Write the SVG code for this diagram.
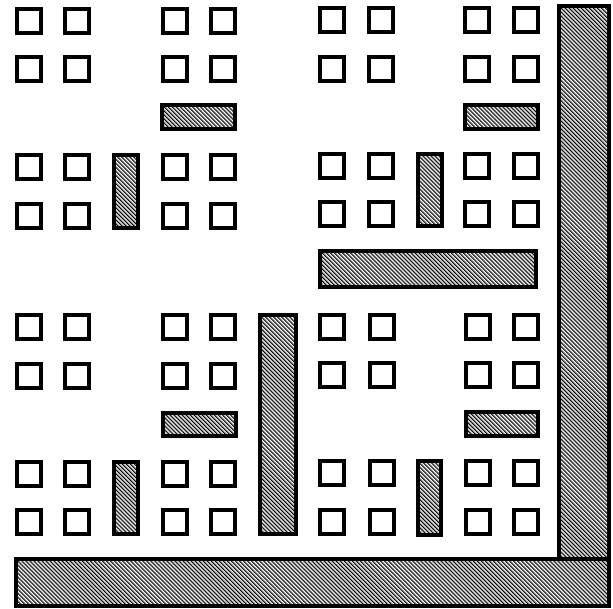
<svg xmlns="http://www.w3.org/2000/svg" width="613" height="609" viewBox="0 0 613 609">
<defs>
<pattern id="hatch" patternUnits="userSpaceOnUse" width="2.85" height="10" patternTransform="rotate(-45)">
<rect x="0" y="0" width="1.3" height="10" fill="#000"/>
</pattern>
<style>
.sq{fill:#fff;stroke:#000;stroke-width:4}
.bar{fill:url(#hatch);stroke:#000;stroke-width:4}
</style>
</defs>
<rect width="613" height="609" fill="#fff"/>
<g id="top-left">
<rect class="sq" x="17" y="9" width="24" height="24"/><rect class="sq" x="65" y="9" width="24" height="24"/>
<rect class="sq" x="163" y="9" width="24" height="24"/><rect class="sq" x="211" y="9" width="24" height="24"/>
<rect class="sq" x="17" y="57" width="24" height="24"/><rect class="sq" x="65" y="57" width="24" height="24"/>
<rect class="sq" x="163" y="57" width="24" height="24"/><rect class="sq" x="211" y="57" width="24" height="24"/>
<rect class="bar" x="162" y="105" width="73" height="24"/>
<rect class="sq" x="17" y="155" width="24" height="24"/><rect class="sq" x="65" y="155" width="24" height="24"/>
<rect class="sq" x="163" y="155" width="24" height="24"/><rect class="sq" x="211" y="155" width="24" height="24"/>
<rect class="sq" x="17" y="204" width="24" height="24"/><rect class="sq" x="65" y="204" width="24" height="24"/>
<rect class="sq" x="163" y="204" width="24" height="24"/><rect class="sq" x="211" y="204" width="24" height="24"/>
<rect class="bar" x="114" y="155" width="24" height="73"/>
</g>
<g id="top-right">
<rect class="sq" x="320" y="8" width="24" height="24"/><rect class="sq" x="369" y="8" width="24" height="24"/>
<rect class="sq" x="465" y="8" width="24" height="24"/><rect class="sq" x="514" y="8" width="24" height="24"/>
<rect class="sq" x="320" y="57" width="24" height="24"/><rect class="sq" x="369" y="57" width="24" height="24"/>
<rect class="sq" x="465" y="57" width="24" height="24"/><rect class="sq" x="514" y="57" width="24" height="24"/>
<rect class="bar" x="465" y="105" width="73" height="24"/>
<rect class="sq" x="320" y="154" width="24" height="24"/><rect class="sq" x="369" y="154" width="24" height="24"/>
<rect class="sq" x="465" y="154" width="24" height="24"/><rect class="sq" x="514" y="154" width="24" height="24"/>
<rect class="sq" x="320" y="202" width="24" height="24"/><rect class="sq" x="369" y="202" width="24" height="24"/>
<rect class="sq" x="465" y="202" width="24" height="24"/><rect class="sq" x="514" y="202" width="24" height="24"/>
<rect class="bar" x="418" y="154" width="24" height="72"/>
</g>
<g id="bottom-left">
<rect class="sq" x="17" y="315" width="24" height="24"/><rect class="sq" x="65" y="315" width="24" height="24"/>
<rect class="sq" x="163" y="315" width="24" height="24"/><rect class="sq" x="211" y="315" width="24" height="24"/>
<rect class="sq" x="17" y="364" width="24" height="24"/><rect class="sq" x="65" y="364" width="24" height="24"/>
<rect class="sq" x="163" y="364" width="24" height="24"/><rect class="sq" x="211" y="364" width="24" height="24"/>
<rect class="bar" x="163" y="413" width="73" height="23"/>
<rect class="sq" x="17" y="462" width="24" height="24"/><rect class="sq" x="65" y="462" width="24" height="24"/>
<rect class="sq" x="163" y="462" width="24" height="24"/><rect class="sq" x="211" y="462" width="24" height="24"/>
<rect class="sq" x="17" y="510" width="24" height="24"/><rect class="sq" x="65" y="510" width="24" height="24"/>
<rect class="sq" x="163" y="510" width="24" height="24"/><rect class="sq" x="211" y="510" width="24" height="24"/>
<rect class="bar" x="114" y="462" width="24" height="72"/>
</g>
<g id="bottom-right">
<rect class="sq" x="320" y="315" width="24" height="24"/><rect class="sq" x="370" y="315" width="24" height="24"/>
<rect class="sq" x="466" y="315" width="24" height="24"/><rect class="sq" x="514" y="315" width="24" height="24"/>
<rect class="sq" x="320" y="363" width="24" height="24"/><rect class="sq" x="370" y="363" width="24" height="24"/>
<rect class="sq" x="466" y="363" width="24" height="24"/><rect class="sq" x="514" y="363" width="24" height="24"/>
<rect class="bar" x="466" y="412" width="72" height="24"/>
<rect class="sq" x="320" y="461" width="24" height="24"/><rect class="sq" x="370" y="461" width="24" height="24"/>
<rect class="sq" x="466" y="461" width="24" height="24"/><rect class="sq" x="514" y="461" width="24" height="24"/>
<rect class="sq" x="320" y="510" width="24" height="24"/><rect class="sq" x="370" y="510" width="24" height="24"/>
<rect class="sq" x="466" y="510" width="24" height="24"/><rect class="sq" x="514" y="510" width="24" height="24"/>
<rect class="bar" x="418" y="461" width="23" height="74"/>
</g>
<g id="trunks">
<rect class="bar" x="320" y="251" width="216" height="36"/>
<rect class="bar" x="260" y="315" width="36" height="219"/>
<rect class="bar" x="559" y="6" width="50" height="553"/>
<rect class="bar" x="16" y="559" width="593" height="47"/>
</g>
</svg>
